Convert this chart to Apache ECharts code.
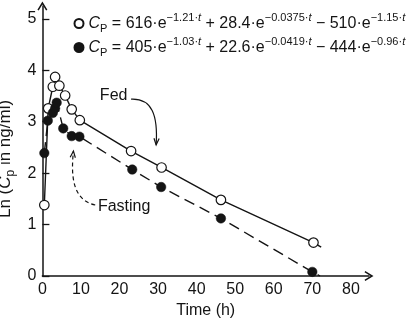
<!DOCTYPE html>
<html>
<head>
<meta charset="utf-8">
<script src="https://cdn.jsdelivr.net/npm/echarts@6/dist/echarts.min.js"></script>
<style>
  html, body { margin: 0; padding: 0; background: #fff; }
  #chart { width: 407px; height: 322px; }
</style>
</head>
<body>
<div id="chart"></div>
<script>
// Plasma concentration, ln scale, after a dose taken fed vs. fasting
const fedTime = [0.5, 1.5, 2.7, 3.3, 4.4, 5.9, 7.6, 9.7, 23.0, 30.9, 46.3, 70.3];
const fedLnCp = [1.38, 3.26, 3.68, 3.87, 3.70, 3.51, 3.24, 3.03, 2.43, 2.11, 1.48, 0.65];
const fastTime = [0.5, 1.4, 2.7, 3.3, 3.7, 5.4, 7.6, 9.6, 23.3, 30.8, 46.3, 70.0];
const fastLnCp = [2.39, 3.02, 3.17, 3.26, 3.37, 2.87, 2.72, 2.71, 2.07, 1.73, 1.12, 0.08];

// where each fitted curve is cut off past the last sample
const fedCurveEnd = [72.3, 0.56];
const fastCurveEnd = [72.0, 0.0];

// fitted tri-exponential models: coefficients and rate constants
const fedCoef = ['616', '28.4', '510'];
const fedRate = ['1.21', '0.0375', '1.15'];
const fastCoef = ['405', '22.6', '444'];
const fastRate = ['1.03', '0.0419', '0.96'];

const xTicks = [0, 10, 20, 30, 40, 50, 60, 70, 80];
const yTicks = [0, 1, 2, 3, 4, 5];

// call-out anchors in data units (time, ln Cp)
const fedNote = { label: [14.9, 3.50], curve: [[23.0, 3.44], [28.4, 3.46], [30.0, 3.13], [29.5, 2.55]] };
const fastNote = { label: [14.4, 1.34], curve: [[13.7, 1.38], [7.7, 1.48], [7.4, 1.96], [8.05, 2.43]] };

const FONT = '"Liberation Sans", Arial, Helvetica, sans-serif';
const INK = '#141414';

const pairs = (xs, ys) => xs.map((x, i) => [x, ys[i]]);

function equation(coef, rate) {
  return '{ci|C}{sub|P}{n| = ' + coef[0] + '·e}{sup|−' + rate[0] + '·}{supi|t}' +
         '{n| + ' + coef[1] + '·e}{sup|−' + rate[1] + '·}{supi|t}' +
         '{n| − ' + coef[2] + '·e}{sup|−' + rate[2] + '·}{supi|t}';
}
const equations = { 'Fed': equation(fedCoef, fedRate), 'Fasting': equation(fastCoef, fastRate) };

const rich = {
  n: { fontFamily: FONT, fontSize: 16, color: INK, lineHeight: 22 },
  ci: { fontFamily: FONT, fontSize: 16, fontStyle: 'italic', color: INK, lineHeight: 22 },
  sub: { fontFamily: FONT, fontSize: 11, color: INK, lineHeight: 12, verticalAlign: 'bottom' },
  sup: { fontFamily: FONT, fontSize: 11, color: INK, lineHeight: 12, verticalAlign: 'top' },
  supi: { fontFamily: FONT, fontSize: 11, fontStyle: 'italic', color: INK, lineHeight: 12, verticalAlign: 'top' }
};
const nameRich = {
  n: { fontFamily: FONT, fontSize: 17, color: INK, lineHeight: 22 },
  ci: { fontFamily: FONT, fontSize: 17, fontStyle: 'italic', color: INK, lineHeight: 22 },
  sub: { fontFamily: FONT, fontSize: 12, color: INK, lineHeight: 12, verticalAlign: 'bottom' }
};

const chevron = 'path://M5 0 L10 8.2 L8.7 9 L5 3 L1.3 9 L0 8.2 Z';

const chart = echarts.init(document.getElementById('chart'), null, { renderer: 'canvas' });

const option = {
  animation: false,
  backgroundColor: '#fff',
  grid: { left: 42.4, right: 38, top: 6, bottom: 46, outerBoundsMode: 'none' },
  legend: {
    data: ['Fed', 'Fasting'],
    orient: 'vertical',
    left: 73.5,
    top: 12.5,
    padding: 0,
    itemWidth: 9,
    itemHeight: 9,
    itemGap: 2,
    selectedMode: false,
    icon: 'circle',
    formatter: name => equations[name],
    textStyle: { fontFamily: FONT, fontSize: 16, color: INK, rich: rich }
  },
  xAxis: {
    type: 'value',
    min: 0,
    max: 84.7,
    name: 'Time (h)',
    nameLocation: 'middle',
    nameGap: 27,
    nameTextStyle: { fontFamily: FONT, fontSize: 16, color: INK },
    axisLine: { lineStyle: { color: INK, width: 1.5 }, symbol: ['none', chevron], symbolSize: [10, 9], symbolOffset: [0, 0] },
    axisTick: { show: false },
    axisLabel: { customValues: xTicks, fontFamily: FONT, fontSize: 16, color: INK, margin: 6 },
    splitLine: { show: false }
  },
  yAxis: {
    type: 'value',
    min: 0,
    max: 5.25,
    name: '{n|Ln (}{ci|C}{sub|p}{n| in ng/ml)}',
    nameLocation: 'middle',
    nameRotate: 90,
    nameGap: 21,
    nameTextStyle: { fontFamily: FONT, fontSize: 17, color: INK, rich: nameRich, padding: [0, 36, 0, 0] },
    axisLine: { lineStyle: { color: INK, width: 1.5 }, symbol: ['none', chevron], symbolSize: [10, 9], symbolOffset: [0, 0] },
    axisTick: { customValues: yTicks, inside: true, length: 7, lineStyle: { color: INK, width: 1.3 } },
    axisLabel: { customValues: yTicks, fontFamily: FONT, fontSize: 16, color: INK, margin: 6 },
    splitLine: { show: false }
  },
  series: [
    {
      name: 'Fed curve', type: 'line', silent: true, showSymbol: false, z: 2,
      data: pairs(fedTime, fedLnCp).concat([fedCurveEnd]),
      lineStyle: { color: INK, width: 1.4 }
    },
    {
      name: 'Fasting curve', type: 'line', silent: true, showSymbol: false, z: 2,
      data: pairs(fastTime, fastLnCp).concat([fastCurveEnd]),
      lineStyle: { color: INK, width: 1.4, type: [11, 6] }
    },
    {
      name: 'Fed', type: 'scatter', z: 3, symbol: 'circle', symbolSize: 9.5,
      data: pairs(fedTime, fedLnCp),
      itemStyle: { color: '#fff', borderColor: INK, borderWidth: 1.2, opacity: 1 }
    },
    {
      name: 'Fasting', type: 'scatter', z: 3, symbol: 'circle', symbolSize: 9.5,
      data: pairs(fastTime, fastLnCp),
      itemStyle: { color: INK, borderColor: INK, borderWidth: 0.5, opacity: 1 }
    }
  ]
};

chart.setOption(option);

// call-out labels and curved arrows, placed from data anchors
const px = p => chart.convertToPixel({ gridIndex: 0 }, p);
function arrowHead(tip, from) {
  const a = Math.atan2(tip[1] - from[1], tip[0] - from[0]);
  const L = 7, w = 0.38;
  return [
    [tip[0] - L * Math.cos(a - w), tip[1] - L * Math.sin(a - w)],
    tip,
    [tip[0] - L * Math.cos(a + w), tip[1] - L * Math.sin(a + w)]
  ];
}
function callout(note, text, dash) {
  const lp = px(note.label);
  const c = note.curve.map(px);
  const lineStyle = { stroke: INK, lineWidth: 1.2, fill: null, lineDash: dash };
  return [
    { type: 'text', x: lp[0], y: lp[1], style: { text: text, font: '16px ' + FONT, fill: INK, verticalAlign: 'middle', align: 'left' } },
    { type: 'bezierCurve', shape: { x1: c[0][0], y1: c[0][1], cpx1: c[1][0], cpy1: c[1][1], cpx2: c[2][0], cpy2: c[2][1], x2: c[3][0], y2: c[3][1] }, style: lineStyle },
    { type: 'polyline', shape: { points: arrowHead(c[3], c[2]) }, style: { stroke: INK, lineWidth: 1.2, fill: null } }
  ];
}

chart.setOption({
  graphic: callout(fedNote, 'Fed', null).concat(callout(fastNote, 'Fasting', [4, 3]))
});
</script>
</body>
</html>
